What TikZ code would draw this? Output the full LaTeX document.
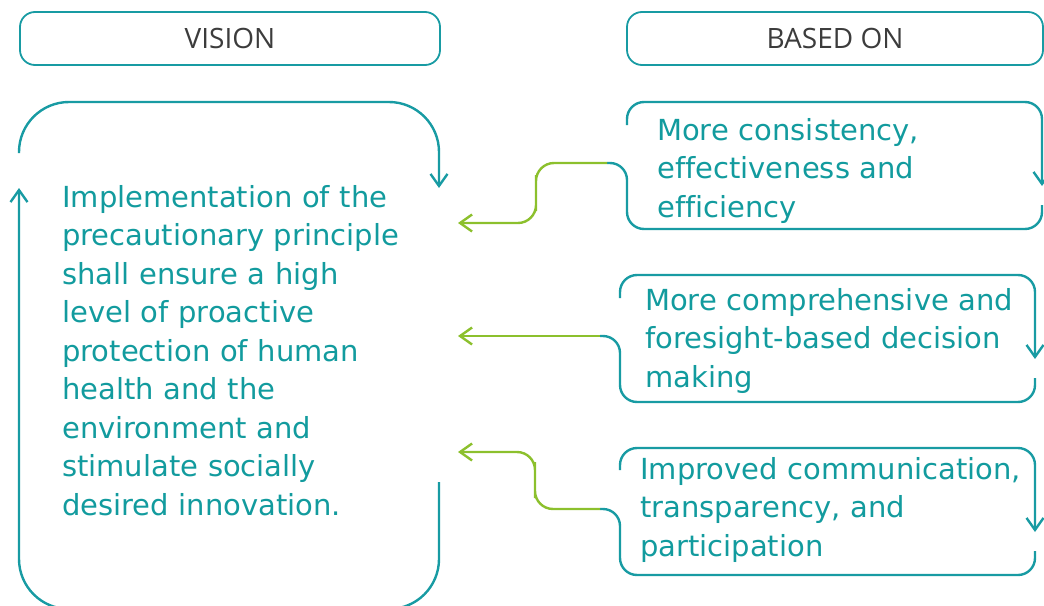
\documentclass[tikz,border=0pt]{standalone}
\usepackage{fontspec}
\setmainfont{DejaVu Sans}[Ligatures=CommonOff]
\newfontfamily\headfont{Open Sans}
\usetikzlibrary{arrows.meta, positioning}
\definecolor{frameteal}{RGB}{24,155,163}
\definecolor{textteal}{RGB}{18,155,158}
\definecolor{linkgreen}{RGB}{140,192,45}
\definecolor{headgray}{RGB}{60,60,60}

\begin{document}
\begin{tikzpicture}[
        x=1pt, y=-1pt,
        head/.style={draw=frameteal, line width=1.8pt, rounded corners=15pt, minimum width=420pt, minimum height=53pt, font=\headfont\fontsize{28}{30}\selectfont, text=headgray},
        txt/.style={anchor=base west, align=left, inner sep=0pt, text width=400pt, text=textteal, font=\fontsize{29}{38.5}\selectfont},
        frame/.style={draw=frameteal, line width=2.4pt, -{Straight Barb[length=12pt,width=17pt]}},
        link/.style={draw=linkgreen, line width=2.4pt, -{Straight Barb[length=12pt,width=17pt]}}
    ]
        \useasboundingbox (0,0) rectangle (1044,605);

        % Headers
        \node[head] (vision) at (230,38.5) {VISION};
        \node[head, minimum width=416pt] (basis) at (835,38.5) {BASED ON};

        % Vision text and frame
        \node[txt, text width=380pt] (goal) at (62,207) {Implementation of the\\precautionary principle\\shall ensure a high\\level of proactive\\protection of human\\health and the\\environment and\\stimulate socially\\desired innovation.};
        \draw[frame, rounded corners=50pt] (19,153) |- (439,102) -- (439,188);
        \draw[frame, rounded corners=50pt] (439,482) |- (19,609) -- (19,188);

        % Based on
        \node[txt] (b1) at (657,140) {More consistency,\\effectiveness and\\efficiency};
        \node[txt] (b2) at (645,310) {More comprehensive and\\foresight-based decision\\making};
        \node[txt] (b3) at (640,479) {Improved communication,\\transparency, and\\participation};

        % Connector ends
        \coordinate (c1) at (607,163);
        \coordinate (c2) at (600,336);
        \coordinate (c3) at (600,509);
        \coordinate (in1) at (458,223);
        \coordinate (in2) at (458,336);
        \coordinate (in3) at (458,452);

        % Box outlines
        \draw[frame, rounded corners=17pt] (627,125) |- (1042,102) -- (1042,186);
        \draw[frame, -, rounded corners=17pt] (1042,205) |- (627,229) |- (c1);
        \draw[frame, rounded corners=17pt] (620,298) |- (1035,275) -- (1035,359);
        \draw[frame, -, rounded corners=17pt] (1035,378) |- (620,402) |- (c2);
        \draw[frame, rounded corners=17pt] (620,470) |- (1035,448) -- (1035,532);
        \draw[frame, -, rounded corners=17pt] (1035,551) |- (620,575) |- (c3);

        % Arrows
        \draw[link, rounded corners=18pt] (c1) -| (536,193) |- (in1);
        \draw[link] (c2) -- (in2);
        \draw[link, rounded corners=18pt] (c3) -| (535,480) |- (in3);
    \end{tikzpicture}
\end{document}
